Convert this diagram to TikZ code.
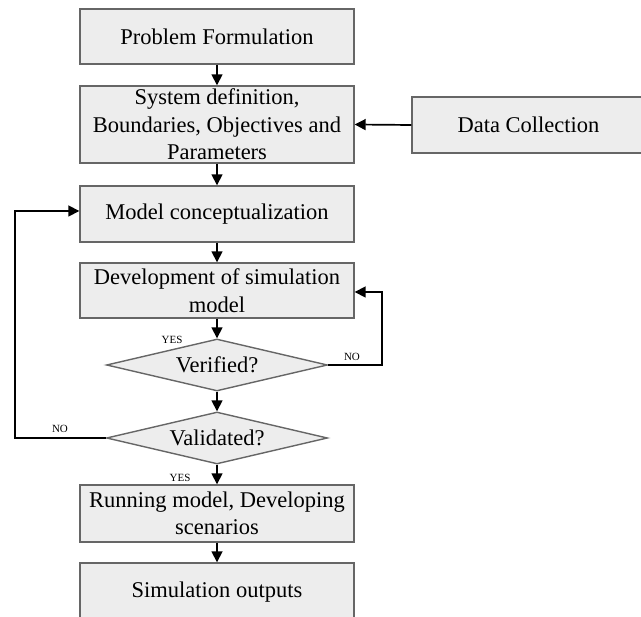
\documentclass[tikz,border=0pt]{standalone}
\usepackage{fontspec}
\setmainfont{Liberation Serif}
\usetikzlibrary{shapes.geometric,arrows.meta}
\begin{document}
\begin{tikzpicture}[x=1pt,y=-1pt,
  procbox/.style={draw=black!60,line width=1.4pt,fill=black!7,rectangle,
    minimum width=274pt,inner sep=0pt,align=center,
    font=\fontsize{22.5}{27.5}\selectfont},
  decision/.style={draw=black!60,line width=1.4pt,fill=black!7,diamond,aspect=4.25,
    minimum width=221pt,minimum height=52pt,inner sep=0pt,
    font=\fontsize{22.5}{27.5}\selectfont},
  flow/.style={line width=1.7pt,-{Triangle[length=11pt,width=11pt]}},
  tag/.style={font=\fontsize{11}{13}\selectfont,inner sep=0pt}]
\useasboundingbox (0,0) rectangle (641,617);
\clip (0,0) rectangle (641,617);

\node[procbox,minimum height=55pt] (pf) at (217,36.5) {Problem Formulation};
\node[procbox,minimum height=77pt] (sd) at (217,124.5) {System definition,\\Boundaries, Objectives and\\Parameters};
\node[procbox,minimum width=233pt,minimum height=56pt] (dc) at (528.5,125) {Data Collection};
\node[procbox,minimum height=56pt] (mc) at (217,214) {Model conceptualization};
\node[procbox,minimum height=55pt] (dev) at (217,290.5) {Development of simulation\\model};
\node[decision] (ver) at (217,365) {Verified?};
\node[decision] (val) at (217,438) {Validated?};
\node[procbox,minimum height=57pt] (run) at (217,513.5) {Running model, Developing\\scenarios};
\node[procbox,minimum height=58pt] (so) at (217,592) {Simulation outputs};

\draw[flow] (pf.south) -- (sd.north);
\draw[flow] (dc.west) -- (sd.east);
\draw[flow] (sd.south) -- (mc.north);
\draw[flow] (mc.south) -- (dev.north);
\draw[flow] (dev.south) -- (ver.north);
\draw[flow] (ver.south) -- (val.north);
\draw[flow] (val.south) -- (run.north);
\draw[flow] (run.south) -- (so.north);
\draw[flow] (ver.east) -| ([xshift=27pt,yshift=-1.5pt]dev.east) -- ([yshift=-1.5pt]dev.east);
\draw[flow] (val.west) -| ([xshift=-64pt,yshift=3pt]mc.west) -- ([yshift=3pt]mc.west);

\node[tag] (yes1) at (172,340) {YES};
\node[tag] (no1) at (352,357) {NO};
\node[tag] (no2) at (60,429) {NO};
\node[tag] (yes2) at (180,478) {YES};
\end{tikzpicture}
\end{document}
